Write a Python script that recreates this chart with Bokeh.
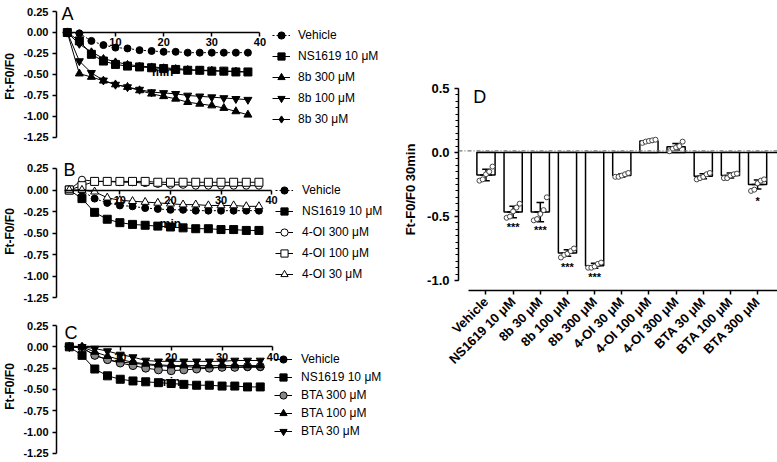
import math
import numpy as np
from bokeh.plotting import figure
from bokeh.layouts import row, column
from bokeh.models import (Range1d, FixedTicker, Legend, LegendItem, Label, Span,
                          NumeralTickFormatter)
from bokeh.embed import file_html
from bokeh.resources import INLINE
from bokeh.core.properties import value

FONT = "Liberation Sans"

# ---------------- data ----------------
time_min = [0, 2.5, 5, 7.5, 10, 12.5, 15, 17.5, 20, 22.5, 25, 27.5, 30, 32.5, 35, 37.5]

vehicle = [0, -0.01, -0.10, -0.15, -0.18, -0.19, -0.21, -0.22, -0.23, -0.23, -0.24, -0.24, -0.24, -0.24, -0.24, -0.24]
ns1619 = [0, -0.10, -0.26, -0.34, -0.38, -0.40, -0.41, -0.42, -0.43, -0.44, -0.45, -0.45, -0.46, -0.46, -0.47, -0.47]

b8_300 = [0, -0.49, -0.53, -0.575, -0.62, -0.65, -0.69, -0.73, -0.76, -0.79, -0.83, -0.85, -0.87, -0.90, -0.94, -0.98]
b8_100 = [0, -0.34, -0.48, -0.57, -0.62, -0.65, -0.68, -0.71, -0.72, -0.73, -0.75, -0.76, -0.77, -0.78, -0.79, -0.80]
b8_30 = [0, -0.14, -0.23, -0.31, -0.35, -0.38, -0.40, -0.41, -0.42, -0.43, -0.44, -0.45, -0.45, -0.46, -0.46, -0.47]

oi_300 = [0, 0.12, 0.10, 0.10, 0.09, 0.09, 0.08, 0.07, 0.06, 0.06, 0.05, 0.05, 0.05, 0.05, 0.05, 0.05]
oi_100 = [0, 0.05, 0.10, 0.10, 0.10, 0.10, 0.10, 0.09, 0.09, 0.09, 0.09, 0.09, 0.09, 0.09, 0.09, 0.09]
oi_30 = [0, 0.0, -0.02, -0.09, -0.12, -0.13, -0.14, -0.15, -0.16, -0.17, -0.17, -0.18, -0.18, -0.18, -0.19, -0.19]

bta_300 = [0, -0.01, -0.10, -0.15, -0.19, -0.22, -0.25, -0.27, -0.28, -0.27, -0.26, -0.25, -0.24, -0.24, -0.23, -0.23]
bta_100 = [0, 0.0, -0.06, -0.11, -0.15, -0.18, -0.20, -0.21, -0.22, -0.22, -0.22, -0.22, -0.22, -0.22, -0.22, -0.22]
bta_30 = [0, 0.0, -0.02, -0.05, -0.09, -0.12, -0.16, -0.17, -0.17, -0.17, -0.17, -0.17, -0.17, -0.16, -0.16, -0.16]

y_ticks_time = [0.25, 0.0, -0.25, -0.5, -0.75, -1.0, -1.25]
x_ticks_time = [10, 20, 30, 40]

# panel D
groups = ["Vehicle", "NS1619 10 μM", "8b 30 μM", "8b 100 μM", "8b 300 μM", "4-OI 30 μM",
          "4-OI 100 μM", "4-OI 300 μM", "BTA 30 μM", "BTA 100 μM", "BTA 300 μM"]
means = [-0.175, -0.465, -0.465, -0.785, -0.885, -0.18, 0.09, 0.045, -0.185, -0.18, -0.25]
sems = [0.045, 0.045, 0.075, 0.025, 0.02, 0.012, 0.01, 0.025, 0.02, 0.02, 0.035]
points = [
    [-0.11, -0.15, -0.17, -0.21, -0.22],
    [-0.40, -0.43, -0.46, -0.50, -0.51],
    [-0.35, -0.45, -0.48, -0.52, -0.53],
    [-0.75, -0.77, -0.79, -0.80, -0.82],
    [-0.86, -0.87, -0.89, -0.90, -0.90],
    [-0.16, -0.17, -0.18, -0.19, -0.19],
    [0.075, 0.085, 0.09, 0.095, 0.10],
    [0.01, 0.03, 0.04, 0.05, 0.085],
    [-0.16, -0.17, -0.19, -0.20, -0.21],
    [-0.165, -0.17, -0.18, -0.20, -0.20],
    [-0.21, -0.22, -0.24, -0.29, -0.30],
]
stars = ["", "***", "***", "***", "***", "", "", "", "", "", "*"]
y_ticks_d = [0.5, 0.0, -0.5, -1.0]


def style_axes(p, tick_size):
    for ax in (p.xaxis, p.yaxis):
        ax.axis_line_width = 1.5
        ax.axis_line_color = "black"
        ax.major_tick_line_width = 1.5
        ax.major_tick_line_color = "black"
        ax.major_tick_in = 0
        ax.major_tick_out = 4
        ax.minor_tick_line_color = None
        ax.major_label_text_font = FONT
        ax.major_label_text_font_style = "bold"
        ax.major_label_text_font_size = tick_size
        ax.major_label_text_color = "black"
        ax.axis_label_text_font = FONT
        ax.axis_label_text_font_style = "bold"
        ax.axis_label_text_font_size = "12px"
        ax.axis_label_text_color = "black"
    p.xgrid.visible = False
    p.ygrid.visible = False
    p.outline_line_color = None


def time_panel(letter, series, g):
    # frame covers the whole figure right of the y axis; axes limited by bounds
    p = figure(width=400, height=g["h"], output_backend="svg", toolbar_location=None,
               x_range=Range1d(g["xr"][0], g["xr"][1]), y_range=Range1d(g["yr"][0], g["yr"][1]),
               min_border_left=g["bl"], min_border_right=0,
               min_border_top=0, min_border_bottom=0)
    style_axes(p, "11px")
    p.xaxis.fixed_location = 0
    p.xaxis.ticker = FixedTicker(ticks=x_ticks_time)
    p.xaxis.bounds = (-1, 40)
    p.xaxis.major_label_standoff = 2
    p.yaxis.ticker = FixedTicker(ticks=y_ticks_time)
    p.yaxis.bounds = (-1.25, 0.25)
    p.yaxis.formatter = NumeralTickFormatter(format="0.00")
    p.yaxis.axis_label = "Ft-F0/F0"
    p.yaxis.axis_label_standoff = 3
    p.yaxis.major_label_standoff = 4

    items = []
    for name, vals, marker, size, fill, dash in series:
        lr = p.line(time_min, vals, line_color="black", line_width=1, line_dash=dash)
        sr = p.scatter(time_min, vals, marker=marker, size=size, fill_color=fill,
                       line_color="black", line_width=1)
        items.append(LegendItem(label=name, renderers=[lr, sr]))
    leg = Legend(items=items, location=g["loc"], padding=0, margin=0, spacing=g["sp"],
                 glyph_width=18, glyph_height=g["rh"], label_height=g["rh"],
                 label_standoff=g["ls"], label_text_font=FONT, label_text_font_size="12px",
                 label_text_color="black",
                 border_line_color=None, background_fill_alpha=0)
    p.add_layout(leg)
    p.add_layout(Label(x=g["lx"], y=g["ly"], text=letter, text_font=FONT, text_color="black",
                       text_font_size="18px", text_baseline="alphabetic"))
    p.add_layout(Label(x=g["mx"], y=g["my"], text="min", text_font=FONT, text_color="black",
                       text_font_size="12px", text_font_style="bold",
                       text_align="center", text_baseline="middle"))
    return p


pa = time_panel("A", [
    ("Vehicle", vehicle, "circle", 7, "black", "2 2"),
    ("NS1619 10 μM", ns1619, "square", 8, "black", "solid"),
    ("8b 300 μM", b8_300, "triangle", 8, "black", "solid"),
    ("8b 100 μM", b8_100, "inverted_triangle", 8, "black", "solid"),
    ("8b 30 μM", b8_30, "diamond", 8, "black", "solid"),
], dict(h=152, bl=50, xr=(-2.245, 69.18), yr=(-1.429, 0.381), loc=(216, 23), rh=20, sp=1, ls=8,
        lx=-1.2, ly=0.223, mx=19.8, my=-0.476))

pb = time_panel("B", [
    ("Vehicle", vehicle, "circle", 7, "black", "2 2"),
    ("NS1619 10 μM", ns1619, "square", 8, "black", "solid"),
    ("4-OI 300 μM", oi_300, "circle", 7, "white", "solid"),
    ("4-OI 100 μM", oi_100, "square", 8, "white", "solid"),
    ("4-OI 30 μM", oi_30, "triangle", 8, "white", "solid"),
], dict(h=158, bl=51, xr=(-2.534, 65.50), yr=(-1.401, 0.436), loc=(219, 26), rh=20, sp=1, ls=9,
        lx=-1.17, ly=0.227, mx=20, my=-0.393))

pc = time_panel("C", [
    ("Vehicle", vehicle, "circle", 7, "black", "solid"),
    ("NS1619 10 μM", ns1619, "square", 8, "black", "solid"),
    ("BTA 300 μM", bta_300, "circle", 8, "#888888", "solid"),
    ("BTA 100 μM", bta_100, "triangle", 8, "black", "solid"),
    ("BTA 30 μM", bta_30, "inverted_triangle", 8, "black", "solid"),
], dict(h=152, bl=52, xr=(-2.524, 65.05), yr=(-1.356, 0.426), loc=(218, 22), rh=18, sp=0, ls=9,
        lx=-0.97, ly=0.168, mx=19.7, my=-0.415))

# ---------------- panel D ----------------
pos = list(range(len(groups)))
d = figure(width=377, height=462, output_backend="svg", toolbar_location=None,
           x_range=Range1d(-1.012, 10.733), y_range=Range1d(-1.078, 0.5),
           min_border_left=52, min_border_right=0, min_border_top=88, min_border_bottom=172)
style_axes(d, "13px")
d.yaxis.ticker = FixedTicker(ticks=y_ticks_d, minor_ticks=list(np.round(np.arange(-1.0, 0.5001, 0.05), 3)))
d.yaxis.minor_tick_line_color = "black"
d.yaxis.minor_tick_line_width = 1.2
d.yaxis.minor_tick_out = 3
d.yaxis.minor_tick_in = 0
d.yaxis.formatter = NumeralTickFormatter(format="0.0")
d.yaxis.bounds = (-1.0, 0.5)
d.yaxis.axis_label = "Ft-F0/F0 30min"
d.yaxis.axis_label_text_font_size = "13px"
d.yaxis.axis_label_standoff = 6
d.xaxis.ticker = FixedTicker(ticks=pos)
d.xaxis.major_label_overrides = {i: g for i, g in zip(pos, groups)}
d.xaxis.major_label_orientation = math.pi / 4
d.xaxis.major_label_text_font_size = "13px"
d.xaxis.major_label_standoff = 5
d.xaxis.bounds = (-0.65, 10.733)

d.add_layout(Span(location=0.012, dimension="width", line_color="#777777",
                  line_width=1.2, line_dash="4 2 1 2"))
d.segment(x0=[-0.35], y0=[0], x1=[10.733], y1=[0], line_color="black", line_width=1.5)
d.vbar(x=pos, top=means, bottom=0, width=0.67, fill_color="white",
       line_color="black", line_width=1.5)

lo = [m - s for m, s in zip(means, sems)]
hi = [m + s for m, s in zip(means, sems)]
d.segment(x0=pos, y0=lo, x1=pos, y1=hi, line_color="black", line_width=1.5)
d.segment(x0=[x - 0.14 for x in pos], y0=lo, x1=[x + 0.14 for x in pos], y1=lo,
          line_color="black", line_width=1.5)
d.segment(x0=[x - 0.14 for x in pos], y0=hi, x1=[x + 0.14 for x in pos], y1=hi,
          line_color="black", line_width=1.5)
d.segment(x0=[x - 0.22 for x in pos], y0=means, x1=[x + 0.22 for x in pos], y1=means,
          line_color="black", line_width=1.5)

offs = [-0.24, -0.12, 0.0, 0.12, 0.24]
px, py = [], []
for i, pts in enumerate(points):
    for o, v in zip(offs, sorted(pts)):
        px.append(i + o)
        py.append(v)
d.scatter(px, py, marker="circle", size=5, fill_color="white", line_color="#444444", line_width=1)

sx = [i for i, s in enumerate(stars) if s]
sy = [min(points[i]) - 0.075 for i in sx]
st = [stars[i] for i in sx]
d.text(x=sx, y=sy, text=st, text_align="center", text_baseline="middle", text_color="black",
       text_font=value(FONT), text_font_size="11px", text_font_style="bold")
d.add_layout(Label(x=-0.47, y=0.43, text="D", text_font=FONT, text_font_size="18px",
                   text_color="black", text_baseline="alphabetic"))

layout = row(column(pa, pb, pc), d)
open("out.html", "w").write(file_html(layout, INLINE))
